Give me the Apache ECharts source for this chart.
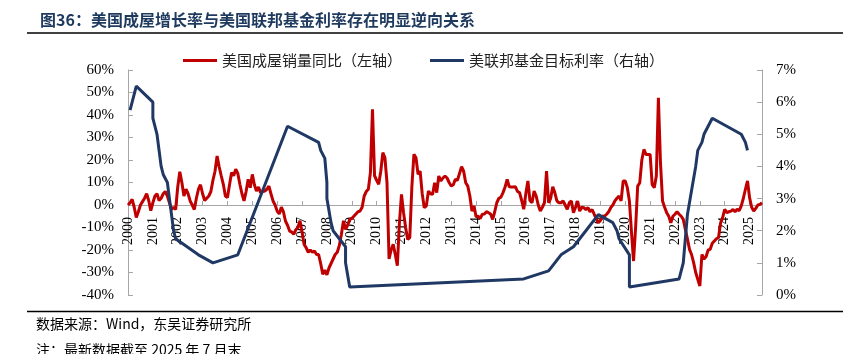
<!DOCTYPE html>
<html>
<head>
<meta charset="utf-8">
<script src="https://cdn.jsdelivr.net/npm/echarts@6/dist/echarts.min.js"></script>
<style>
  html, body { margin: 0; padding: 0; background: #fff; }
  #main { width: 843px; height: 354px; }
</style>
</head>
<body>
<div id="main"></div>
<script>
// 月度类目 2000-01 .. 2025-07
var months = [];
for (var y = 2000; y <= 2025; y++) {
  for (var m = 1; m <= 12; m++) {
    if (y === 2025 && m > 7) break;
    months.push(y + '-' + (m < 10 ? '0' + m : m));
  }
}

// 美国成屋销量同比（%），按年排列
var sales2000 = [0, 1, 2.5, -1, -5.5, -3, 0, 1.5, 3, 5, 2, -2.5];
var sales2001 = [1, 4, 5, 2, 3, 5, 6, 4, 1, -2, -1, -2];
var sales2002 = [8, 14.8, 10, 4, 7, 5, 1.8, 0, -2, 3, 7, 9];
var sales2003 = [5, 2, 3, 4, 6, 11, 15, 21.8, 17, 13, 9.2, 4];
var sales2004 = [3.3, 9, 14.4, 13, 15.9, 14, 9.2, 5, 1.8, 6, 11.4, 7.7];
var sales2005 = [13.6, 9, 6.2, 8, 5.5, 6, 6.2, 7, 8.4, 5, 1.8, 0];
var sales2006 = [-2.7, -4, -1, -3, -7.1, -9, -11.6, -12, -13, -11, -10, -7];
var sales2007 = [-12, -17.5, -19, -21, -20, -21, -20.4, -22, -22, -26, -30.8, -29];
var sales2008 = [-31, -28, -26, -24, -22, -21, -18, -13, -7, -10.8, -9, -6.4];
var sales2009 = [-6, -5, -4, -3, -2.7, -1, 4, 6, 7, 14.4, 42.5, 13];
var sales2010 = [11, 9.2, 15, 23.3, 21, 10, -24, -20, -17.5, -22, -27, -8];
var sales2011 = [4.7, -3.4, -10, -15.3, -14.5, 8, 22.5, 21, 13.6, 15.1, 5, -1.2];
var sales2012 = [-0.4, 6.2, 5, 4.7, 9.9, 5.5, 12.9, 10.7, 12, 12.9, 12, 10];
var sales2013 = [8.4, 9, 11.4, 11, 14, 17, 15, 9.9, 8.4, 4, -2.7, -0.4];
var sales2014 = [-5.2, -5, -6, -4.1, -4, -3, -3.4, -4, -6.4, -3, 1, 3];
var sales2015 = [3.5, 5.5, 8, 11.4, 8.1, 8, 8, 8.1, 6, 5.5, 2, -1.9];
var sales2016 = [5, 10.7, 2, 1, 6.2, 4, 0, -2.7, -1, 1, 15.1, 1];
var sales2017 = [3, 8.1, 5.5, 1.8, 1, 1, 1.8, 0, -1.9, 1, 1.8, -3.4];
var sales2018 = [-1, 1.8, -2.7, -1, -1.2, -2, -1.2, -3, -2, -4.1, -6, -7.9];
var sales2019 = [-7, -4.9, -5, -4.1, -3, -1.2, 0, 1.8, 3, 4, 1.8, 10.7];
var sales2020 = [10.7, 7.7, 1.8, -12, -24.9, -10, 8.4, 9.9, 20, 24.7, 22.5, 22.5];
var sales2021 = [22.5, 9, 7.7, 12.9, 47.7, 18.8, 1.8, -1, -3.4, -5, -7.9, -5];
var sales2022 = [-4.1, -3, -4.1, -5, -6.4, -10.8, -15, -19.7, -22, -25.6, -30, -33];
var sales2023 = [-36, -22, -24, -23, -20, -19.7, -17, -16, -15, -14.5, -8, -5.6];
var sales2024 = [-1.9, -3.4, -3, -2.7, -2, -3, -1.9, -2.5, -0.4, 3, 7, 10.7];
var sales2025 = [3.3, -1, -2.7, -1.5, 0, 0.3, 1];

var salesYoY = [].concat(sales2000, sales2001, sales2002, sales2003, sales2004,
  sales2005, sales2006, sales2007, sales2008, sales2009, sales2010, sales2011,
  sales2012, sales2013, sales2014, sales2015, sales2016, sales2017, sales2018,
  sales2019, sales2020, sales2021, sales2022, sales2023, sales2024, sales2025);

// 美联邦基金目标利率（上限，%），只取调整月份
var fedMonths = ['2000-02', '2000-03', '2000-05', '2001-01', '2001-01', '2001-03', '2001-04',
  '2001-05', '2001-06', '2001-08', '2001-09', '2001-10', '2001-11', '2001-12', '2002-11',
  '2003-06', '2004-06', '2006-06', '2007-09', '2007-10', '2007-12', '2008-01', '2008-01',
  '2008-03', '2008-04', '2008-10', '2008-10', '2008-12', '2015-12', '2016-12', '2017-03',
  '2017-06', '2017-12', '2018-03', '2018-06', '2018-09', '2018-12', '2019-07', '2019-09',
  '2019-10', '2020-03', '2020-03', '2022-03', '2022-05', '2022-06', '2022-07', '2022-09',
  '2022-11', '2022-12', '2023-02', '2023-03', '2023-05', '2023-07', '2024-09', '2024-11',
  '2024-12'];
var fedRate = [5.75, 6.0, 6.5, 6.0, 5.5, 5.0, 4.5,
  4.0, 3.75, 3.5, 3.0, 2.5, 2.0, 1.75, 1.25,
  1.0, 1.25, 5.25, 4.75, 4.5, 4.25, 3.5, 3.0,
  2.25, 2.0, 1.5, 1.0, 0.25, 0.5, 0.75, 1.0,
  1.25, 1.5, 1.75, 2.0, 2.25, 2.5, 2.25, 2.0,
  1.75, 1.25, 0.25, 0.5, 1.0, 1.75, 2.5, 3.25,
  4.0, 4.5, 4.75, 5.0, 5.25, 5.5, 5.0, 4.75,
  4.5];

var leftTicks = [-40, 60, 10];
var rightTicks = [0, 7, 1];

var fedData = fedMonths.map(function (d, i) { return [d, fedRate[i]]; });

var chart = echarts.init(document.getElementById('main'), null, { renderer: 'canvas' });

var serif = 'Liberation Serif, "Noto Sans CJK SC", serif';
var cjk = '"Noto Sans CJK SC", sans-serif';

var gridTop = 70, gridBottom = 59, chartH = 354;
// x轴放在左轴0%的位置
var zeroOffset = -(chartH - gridTop - gridBottom) * (0 - leftTicks[0]) / (leftTicks[1] - leftTicks[0]);

var yearLabel = function (index) {
  return index % 12 === 0;
};

var option = {
  backgroundColor: '#ffffff',
  animation: false,
  title: {
    text: '图36：美国成屋增长率与美国联邦基金利率存在明显逆向关系',
    left: 35,
    top: 7,
    textStyle: { color: '#1f3a5f', fontSize: 16, fontWeight: 'bold', fontFamily: cjk }
  },
  legend: {
    top: 48,
    left: 178,
    itemWidth: 34,
    itemHeight: 3,
    itemGap: 28,
    icon: 'rect',
    textStyle: { color: '#222', fontSize: 15, fontFamily: cjk },
    data: ['美国成屋销量同比（左轴）', '美联邦基金目标利率（右轴）']
  },
  grid: { left: 128, right: 81, top: gridTop, bottom: gridBottom },
  xAxis: {
    type: 'category',
    data: months,
    boundaryGap: false,
    offset: zeroOffset,
    axisLine: { onZero: false, lineStyle: { color: '#a6a6a6', width: 1 } },
    axisTick: { inside: true, length: 4, interval: function (i) { return yearLabel(i); }, lineStyle: { color: '#a6a6a6' } },
    axisLabel: {
      interval: function (i) { return yearLabel(i); },
      rotate: 90,
      margin: 12,
      color: '#000',
      fontSize: 14,
      fontFamily: serif,
      formatter: function (v) { return v.slice(0, 4); }
    },
    splitLine: { show: false }
  },
  yAxis: [{
    type: 'value',
    min: leftTicks[0],
    max: leftTicks[1],
    interval: leftTicks[2],
    axisLine: { show: true, lineStyle: { color: '#a6a6a6' } },
    axisTick: { show: true, inside: true, length: 5, lineStyle: { color: '#a6a6a6' } },
    axisLabel: { formatter: '{value}%', color: '#000', fontSize: 15, fontFamily: serif, margin: 14 },
    splitLine: { show: false }
  }, {
    type: 'value',
    min: rightTicks[0],
    max: rightTicks[1],
    interval: rightTicks[2],
    axisLine: { show: true, lineStyle: { color: '#a6a6a6' } },
    axisTick: { show: true, inside: true, length: 5, lineStyle: { color: '#a6a6a6' } },
    axisLabel: { formatter: '{value}%', color: '#000', fontSize: 15, fontFamily: serif, margin: 14 },
    splitLine: { show: false }
  }],
  series: [{
    name: '美国成屋销量同比（左轴）',
    type: 'line',
    yAxisIndex: 0,
    data: salesYoY,
    showSymbol: false,
    lineStyle: { color: '#c00000', width: 3 },
    itemStyle: { color: '#c00000' },
    z: 3
  }, {
    name: '美联邦基金目标利率（右轴）',
    type: 'line',
    yAxisIndex: 1,
    data: fedData,
    showSymbol: false,
    lineStyle: { color: '#1f3864', width: 3 },
    itemStyle: { color: '#1f3864' },
    z: 4
  }],
  graphic: [
    { type: 'line', shape: { x1: 27, y1: 33, x2: 843, y2: 33 }, style: { stroke: '#000', lineWidth: 1.5 } },
    { type: 'line', shape: { x1: 27, y1: 311.5, x2: 843, y2: 311.5 }, style: { stroke: '#000', lineWidth: 1.5 } },
    { type: 'text', left: 36, top: 317, style: { text: '数据来源：Wind，东吴证券研究所', fill: '#000', font: '14px ' + cjk } },
    { type: 'text', left: 36, top: 343, style: { text: '注：最新数据截至 2025 年 7 月末', fill: '#000', font: '14px ' + cjk } }
  ]
};

chart.setOption(option);
</script>
</body>
</html>
